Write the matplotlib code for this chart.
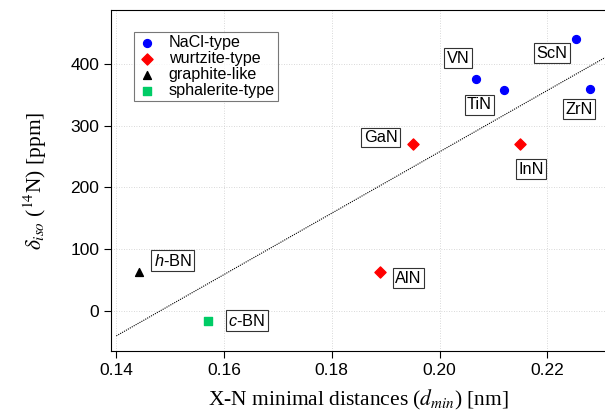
import numpy as np
import matplotlib
matplotlib.use("Agg")
import matplotlib.pyplot as plt

plt.rcParams['font.family'] = ['Liberation Sans', 'DejaVu Sans']
plt.rcParams['mathtext.fontset'] = 'custom'
plt.rcParams['mathtext.it'] = 'Liberation Sans:italic'
plt.rcParams['mathtext.rm'] = 'Liberation Sans'

# data
nacl_names = ["ScN", "ZrN", "VN", "TiN"]
nacl_x = [0.2253, 0.2279, 0.2068, 0.2120]
nacl_y = [440, 360, 376, 358]

wurtz_names = ["GaN", "InN", "AlN"]
wurtz_x = [0.1951, 0.2150, 0.1889]
wurtz_y = [270, 270, 62]

graph_names = ["$h$-BN"]
graph_x = [0.1443]
graph_y = [62]

sphal_names = ["$c$-BN"]
sphal_x = [0.1570]
sphal_y = [-17]

# label offsets in points
offsets = {
    "ScN": (-17.5, -10.1), "ZrN": (-7.7, -14.8), "VN": (-13.2, 14.9),
    "TiN": (-17.8, -10.8), "GaN": (-23.5, 4.8), "InN": (7.7, -18),
    "AlN": (20.7, -4.0), "$h$-BN": (23.8, 8.4), "$c$-BN": (28.1, 0.4),
}

fig = plt.figure(figsize=(6.05, 4.11), dpi=100)
ax = fig.add_axes([0.1835, 0.146, 0.8165, 0.8297])

all_x = np.array(nacl_x + wurtz_x + graph_x + sphal_x)
all_y = np.array(nacl_y + wurtz_y + graph_y + sphal_y)
k, b = np.polyfit(all_x, all_y, 1)  # linear fit
xl = np.array([0.14, 0.2307])
ax.plot(xl, k * xl + b, ls=(0, (1, 1)), color='black', lw=0.8, zorder=2)

ax.scatter(nacl_x, nacl_y, marker='o', s=32, color='#0000ff', label='NaCl-type', zorder=3)
ax.scatter(wurtz_x, wurtz_y, marker='D', s=32, color='#ff0000', label='wurtzite-type', zorder=3)
ax.scatter(graph_x, graph_y, marker='^', s=32, color='black', label='graphite-like', zorder=3)
ax.scatter(sphal_x, sphal_y, marker='s', s=28, color='#00cc66', label='sphalerite-type', zorder=3)

names = nacl_names + wurtz_names + graph_names + sphal_names
for n, x, y in zip(names, all_x, all_y):
    ax.annotate(n, (x, y), xytext=offsets[n], textcoords='offset points',
                ha='center', va='center', fontsize=11.8, math_fontfamily='custom',
                bbox=dict(boxstyle='square,pad=0.15', fc='white', ec='#333333', lw=0.8))

ax.set_xlim(0.13902, 0.23071)
ax.set_ylim(-65.3, 487.6)
ax.set_xticks([0.14, 0.16, 0.18, 0.20, 0.22])
ax.set_xticklabels(["0.14", "0.16", "0.18", "0.20", "0.22"])
ax.set_yticks([0, 100, 200, 300, 400])
ax.tick_params(direction='out', length=5, labelsize=12.5, top=False, right=False)
ax.grid(True, ls=(0, (1, 2)), color='#cccccc', lw=0.6)
ax.set_axisbelow(True)
ax.spines['right'].set_visible(False)

ax.set_xlabel('X-N minimal distances ($d_{min}$) [nm]', family='Liberation Serif',
              fontsize=15.5, math_fontfamily='stix', labelpad=7)
ax.set_ylabel(r'$\delta_{iso}$ ($^{14}$N) [ppm]', family='Liberation Serif',
              fontsize=15.5, math_fontfamily='stix', labelpad=15)

leg = ax.legend(loc='upper left', bbox_to_anchor=(0.047, 0.935), borderaxespad=0,
                fontsize=11.6, frameon=True, fancybox=False, edgecolor='#555555',
                handletextpad=0.75, handlelength=1.2, labelspacing=0.05, borderpad=0.2,
                markerscale=1.0)
leg.get_frame().set_linewidth(0.8)

fig.savefig('out.png', dpi=100)
